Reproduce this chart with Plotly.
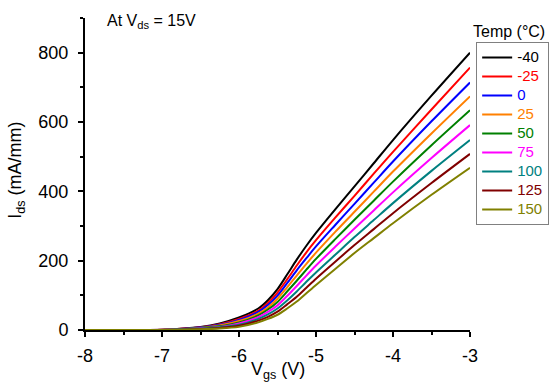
import plotly.graph_objects as go

vgs = [-8, -7.5, -7, -6.5, -6.25, -6, -5.75, -5.625, -5.5, -5.375, -5.25, -5.125, -5, -4.75, -4.5, -4.25, -4, -3.5, -3]

temps = ["-40", "-25", "0", "25", "50", "75", "100", "125", "150"]
colors = ["#000000", "#FF0000", "#0000FF", "#FF8000", "#008000", "#FF00FF", "#008080", "#800000", "#808000"]

ids_m40 = [0, 0, 1, 9, 19, 36, 62, 86, 118, 160, 203, 243, 280, 348, 414, 481, 548, 676, 800]
ids_m25 = [0, 0, 1, 8, 17, 32, 56, 78, 108, 146, 186, 224, 259, 324, 387, 451, 514, 636, 757]
ids_0 = [0, 0, 1, 7, 15, 29, 52, 72, 99, 135, 172, 207, 241, 303, 364, 425, 486, 602, 714]
ids_25 = [0, 0, 1, 6, 13, 26, 47, 65, 90, 123, 157, 191, 223, 283, 341, 399, 457, 567, 674]
ids_50 = [0, 0, 0, 6, 11, 22, 42, 59, 81, 111, 142, 174, 205, 262, 318, 373, 428, 533, 634]
ids_75 = [0, 0, 0, 5, 9, 19, 37, 52, 71, 98, 127, 157, 186, 240, 293, 345, 397, 496, 591]
ids_100 = [0, 0, 0, 4, 8, 15, 32, 45, 62, 85, 111, 139, 166, 217, 268, 317, 366, 459, 548]
ids_125 = [0, 0, 0, 3, 6, 12, 27, 38, 53, 74, 96, 122, 148, 197, 245, 291, 337, 424, 508]
ids_150 = [0, 0, 0, 2, 4, 9, 22, 32, 44, 62, 82, 106, 130, 176, 222, 265, 308, 390, 468]

series = [ids_m40, ids_m25, ids_0, ids_25, ids_50, ids_75, ids_100, ids_125, ids_150]

x_ticks = [-8, -7, -6, -5, -4, -3]
x_tick_text = ["-8", "-7", "-6", "-5", "-4", "-3"]
y_ticks = [0, 200, 400, 600, 800]
y_tick_text = ["0", "200", "400", "600", "800"]

FONT = "Liberation Sans, Arial, sans-serif"

fig = go.Figure()
for name, col, ys in zip(temps, colors, series):
    fig.add_trace(go.Scatter(
        x=vgs, y=ys, mode="lines", line=dict(color=col, width=2, shape="spline", smoothing=0.8),
        name=f'<span style="color:{col};font-size:15px">{name}</span>',
    ))

fig.update_layout(
    width=550, height=391,
    margin=dict(l=85, r=80, t=18, b=61, autoexpand=False),
    paper_bgcolor="white", plot_bgcolor="white",
    font=dict(family=FONT, color="black"),
    showlegend=True,
    legend=dict(
        x=1.016, y=0.923, xanchor="left", yanchor="top",
        bgcolor="white", bordercolor="#808080", borderwidth=1,
        font=dict(family=FONT, size=12),
        tracegroupgap=0, itemwidth=30,
    ),
    xaxis=dict(
        range=[-8, -3], showgrid=False, zeroline=False, automargin=False,
        showline=True, linecolor="black", linewidth=2,
        ticks="outside", ticklen=5, tickwidth=2, tickcolor="black",
        tickvals=x_ticks, ticktext=x_tick_text, ticklabelstandoff=3,
        tickfont=dict(family=FONT, size=18),
        minor=dict(ticks="outside", ticklen=3, tickwidth=2, tickcolor="black", dtick=0.5, showgrid=False),
    ),
    yaxis=dict(
        range=[0, 900], showgrid=False, zeroline=False, automargin=False,
        showline=True, linecolor="black", linewidth=2,
        ticks="outside", ticklen=5, tickwidth=2, tickcolor="black",
        tickvals=y_ticks, ticktext=y_tick_text, ticklabelstandoff=6,
        tickfont=dict(family=FONT, size=18),
        minor=dict(ticks="outside", ticklen=3, tickwidth=2, tickcolor="black", dtick=100, showgrid=False),
    ),
    annotations=[
        dict(text="At V<sub>ds</sub> = 15V", xref="paper", yref="paper", x=0.052, y=1.025,
             xanchor="left", yanchor="top", showarrow=False, font=dict(family=FONT, size=16)),
        dict(text="Temp (°C)", xref="paper", yref="paper", x=1.10, y=0.958,
             xanchor="center", yanchor="middle", showarrow=False, font=dict(family=FONT, size=16)),
        dict(text="V<sub>gs</sub> (V)", xref="paper", yref="paper", x=0.5, y=-0.087,
             xanchor="center", yanchor="top", showarrow=False, font=dict(family=FONT, size=18)),
        dict(text="I<sub>ds</sub> (mA/mm)", xref="paper", yref="paper", x=-0.177, y=0.513,
             xanchor="center", yanchor="middle", textangle=-90, showarrow=False,
             font=dict(family=FONT, size=18)),
    ],
)

fig.write_html("out.html", config={"displayModeBar": False},
               post_script="document.body.style.margin='0';document.body.style.overflow='hidden';")
